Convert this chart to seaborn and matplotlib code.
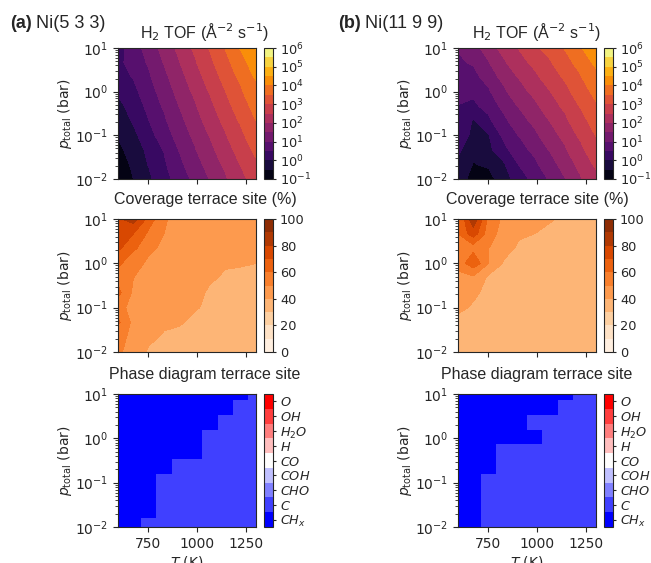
import numpy as np
import matplotlib
matplotlib.use("Agg")
import matplotlib.pyplot as plt
from matplotlib.colors import ListedColormap
import seaborn as sns

# simulation grid: temperature (K) and total pressure (bar)
temps = [600, 678, 756, 833, 911, 989, 1067, 1144, 1222, 1300]
pressures = [0.01, 0.02154, 0.04642, 0.1, 0.2154, 0.4642, 1.0, 2.154, 4.642, 10.0]

# log10 of H2 TOF, rows = pressure (low -> high), cols = temperature
log_tof_533 = [
    [-0.90, -0.50, -0.09, 0.32, 0.72, 1.13, 1.53, 1.94, 2.34, 2.75],
    [-0.77, -0.41, 0.03, 0.42, 0.88, 1.29, 1.70, 2.11, 2.52, 2.93],
    [-0.63, -0.27, 0.12, 0.53, 1.03, 1.46, 1.87, 2.29, 2.70, 3.13],
    [-0.45, -0.12, 0.31, 0.77, 1.19, 1.62, 2.04, 2.46, 2.89, 3.31],
    [-0.35, 0.07, 0.49, 0.92, 1.35, 1.79, 2.21, 2.64, 3.07, 3.50],
    [-0.15, 0.20, 0.64, 1.07, 1.51, 1.94, 2.38, 2.82, 3.25, 3.69],
    [0.10, 0.37, 0.78, 1.23, 1.66, 2.11, 2.55, 2.99, 3.43, 3.88],
    [0.30, 0.53, 0.93, 1.37, 1.82, 2.27, 2.72, 3.17, 3.62, 4.06],
    [0.40, 0.66, 1.07, 1.53, 1.98, 2.44, 2.89, 3.35, 3.80, 4.30],
    [0.30, 0.76, 1.22, 1.68, 2.14, 2.60, 3.06, 3.52, 4.05, 4.55],
]
log_tof_1199 = [
    [-0.20, -0.73, -0.66, -0.24, 0.28, 0.65, 1.07, 1.49, 1.96, 2.38],
    [-0.06, -0.53, -0.41, -0.05, 0.53, 0.90, 1.31, 1.71, 2.17, 2.59],
    [0.08, -0.28, -0.13, 0.38, 0.78, 1.15, 1.54, 1.95, 2.39, 2.81],
    [0.22, -0.09, -0.02, 0.64, 1.03, 1.40, 1.78, 2.17, 2.61, 3.02],
    [0.36, -0.04, 0.41, 0.90, 1.28, 1.65, 2.02, 2.41, 2.82, 3.23],
    [0.49, 0.40, 0.68, 1.16, 1.55, 1.90, 2.25, 2.63, 3.04, 3.45],
    [0.63, 0.63, 0.94, 1.42, 1.80, 2.15, 2.49, 2.87, 3.25, 3.66],
    [0.77, 0.84, 1.22, 1.68, 2.05, 2.40, 2.73, 3.09, 3.47, 3.87],
    [0.91, 1.07, 1.48, 1.94, 2.30, 2.65, 2.96, 3.33, 3.69, 4.12],
    [1.05, 1.30, 1.75, 2.20, 2.55, 2.90, 3.20, 3.55, 3.95, 4.50],
]

# terrace site coverage (%)
cov_533 = [
    [52, 45, 39, 37, 36, 35, 35, 34, 34, 33],
    [55, 46, 42, 39, 38, 37, 36, 35, 35, 34],
    [62, 47, 44, 42, 41, 38, 37, 36, 36, 35],
    [54, 46, 44, 43, 42, 41, 38, 37, 36, 36],
    [63, 48, 45, 44, 43, 42, 39, 38, 37, 37],
    [56, 50, 45, 44, 43, 42, 41, 39, 38, 38],
    [62, 54, 48, 45, 44, 43, 42, 41, 41, 40],
    [72, 62, 53, 47, 45, 44, 43, 42, 42, 41],
    [80, 70, 58, 50, 46, 45, 44, 43, 43, 42],
    [78, 86, 66, 51, 47, 45, 44, 44, 43, 43],
]
cov_1199 = [
    [35, 35, 35, 34, 34, 34, 34, 34, 34, 34],
    [36, 36, 35, 35, 35, 34, 34, 34, 34, 34],
    [38, 37, 35, 35, 35, 35, 34, 34, 34, 34],
    [42, 39, 36, 35, 35, 35, 35, 34, 34, 34],
    [44, 42, 37, 36, 35, 35, 35, 35, 34, 34],
    [48, 48, 38, 37, 36, 35, 35, 35, 35, 34],
    [53, 68, 50, 39, 37, 36, 35, 35, 35, 35],
    [57, 56, 50, 44, 38, 37, 36, 35, 35, 35],
    [60, 76, 54, 46, 42, 40, 38, 36, 36, 35],
    [57, 88, 56, 48, 45, 43, 41, 38, 37, 36],
]

# dominant species on terrace site (index into species)
species = ["$CH_x$", "$C$", "$CHO$", "$COH$", "$CO$", "$H$", "$H_2O$", "$OH$", "$O$"]
phase_533 = [
    [0, 0, 1, 1, 1, 1, 1, 1, 1, 1],
    [0, 0, 0, 1, 1, 1, 1, 1, 1, 1],
    [0, 0, 0, 1, 1, 1, 1, 1, 1, 1],
    [0, 0, 0, 1, 1, 1, 1, 1, 1, 1],
    [0, 0, 0, 0, 1, 1, 1, 1, 1, 1],
    [0, 0, 0, 0, 0, 0, 1, 1, 1, 1],
    [0, 0, 0, 0, 0, 0, 1, 1, 1, 1],
    [0, 0, 0, 0, 0, 0, 0, 1, 1, 1],
    [0, 0, 0, 0, 0, 0, 0, 0, 1, 1],
    [0, 0, 0, 0, 0, 0, 0, 0, 0, 1],
]
phase_1199 = [
    [0, 0, 1, 1, 1, 1, 1, 1, 1, 1],
    [0, 0, 1, 1, 1, 1, 1, 1, 1, 1],
    [0, 0, 1, 1, 1, 1, 1, 1, 1, 1],
    [0, 0, 1, 1, 1, 1, 1, 1, 1, 1],
    [0, 0, 0, 1, 1, 1, 1, 1, 1, 1],
    [0, 0, 0, 1, 1, 1, 1, 1, 1, 1],
    [0, 0, 0, 0, 0, 0, 1, 1, 1, 1],
    [0, 0, 0, 0, 0, 1, 1, 1, 1, 1],
    [0, 0, 0, 0, 0, 0, 0, 1, 1, 1],
    [0, 0, 0, 0, 0, 0, 0, 0, 1, 1],
]

sns.set_style("ticks")
title_font = "Liberation Sans"

W, H = 651, 563
fig = plt.figure(figsize=(W / 100, H / 100), dpi=100)

phase_cmap = ListedColormap(plt.get_cmap("bwr")(np.linspace(0, 1, 9)))
tof_levels = np.arange(-1, 6.01, 0.5)
cov_levels = np.arange(0, 100.1, 10)

panels = [
    ("(a)", "Ni(5 3 3)", log_tof_533, cov_533, phase_533, 118, 264, 10, 205),
    ("(b)", "Ni(11 9 9)", log_tof_1199, cov_1199, phase_1199, 458, 604, 338, 537),
]
rows = [(48, 131), (219, 133), (394, 133)]
titles = ["H$_2$ TOF (Å$^{-2}$ s$^{-1}$)",
          "Coverage terrace site (%)",
          "Phase diagram terrace site"]
title_base = [38, 204, 379]


def box(x, top, w, h):
    return [x / W, 1 - (top + h) / H, w / W, h / H]


for tag, name, tof, cov, phase, ax_x, cb_x, lab_x, title_x in panels:
    for r, (top, h) in enumerate(rows):
        ax = fig.add_axes(box(ax_x, top, 138, h))
        cax = fig.add_axes(box(cb_x, top, 9, h))
        if r == 0:
            cs = ax.contourf(temps, pressures, np.array(tof), levels=tof_levels, cmap="inferno")
            cb = fig.colorbar(cs, cax=cax, ticks=range(-1, 7))
            cb.set_ticklabels([f"$10^{{{k}}}$" for k in range(-1, 7)])
        elif r == 1:
            cs = ax.contourf(temps, pressures, np.array(cov), levels=cov_levels, cmap="Oranges")
            cb = fig.colorbar(cs, cax=cax, ticks=range(0, 101, 20))
        else:
            mesh = ax.pcolormesh(temps, pressures, np.array(phase), shading="nearest",
                                 cmap=phase_cmap, vmin=-0.5, vmax=8.5)
            cb = fig.colorbar(mesh, cax=cax, ticks=range(9))
            cb.set_ticklabels(species)
        cb.ax.tick_params(labelsize=9.3, length=2.5, pad=2.5)
        cb.outline.set_linewidth(0.8)
        ax.set_yscale("log")
        ax.set_xlim(600, 1300)
        ax.set_ylim(1e-2, 1e1)
        ax.set_xticks([750, 1000, 1250])
        ax.set_yticks([1e-2, 1e-1, 1e0, 1e1])
        ax.tick_params(which="minor", axis="y", left=True, length=2, width=0.6)
        ax.set_ylabel("$p_{\\rm total}$ (bar)", labelpad=1)
        if r < 2:
            ax.set_xticklabels([])
        else:
            ax.set_xlabel("$T$ (K)", labelpad=2)
        fig.text(title_x / W, 1 - title_base[r] / H, titles[r], ha="center",
                 va="baseline", fontsize=11.5, family=title_font)

    t = fig.text(lab_x / W, 1 - 28 / H, tag, fontsize=13, weight="bold",
                 family=title_font, va="baseline")
    fig.canvas.draw()
    bb = t.get_window_extent()
    fig.text((bb.x1 + 4) / W, 1 - 28 / H, name, fontsize=13,
             family=title_font, va="baseline")

fig.savefig("out.png", dpi=100)
